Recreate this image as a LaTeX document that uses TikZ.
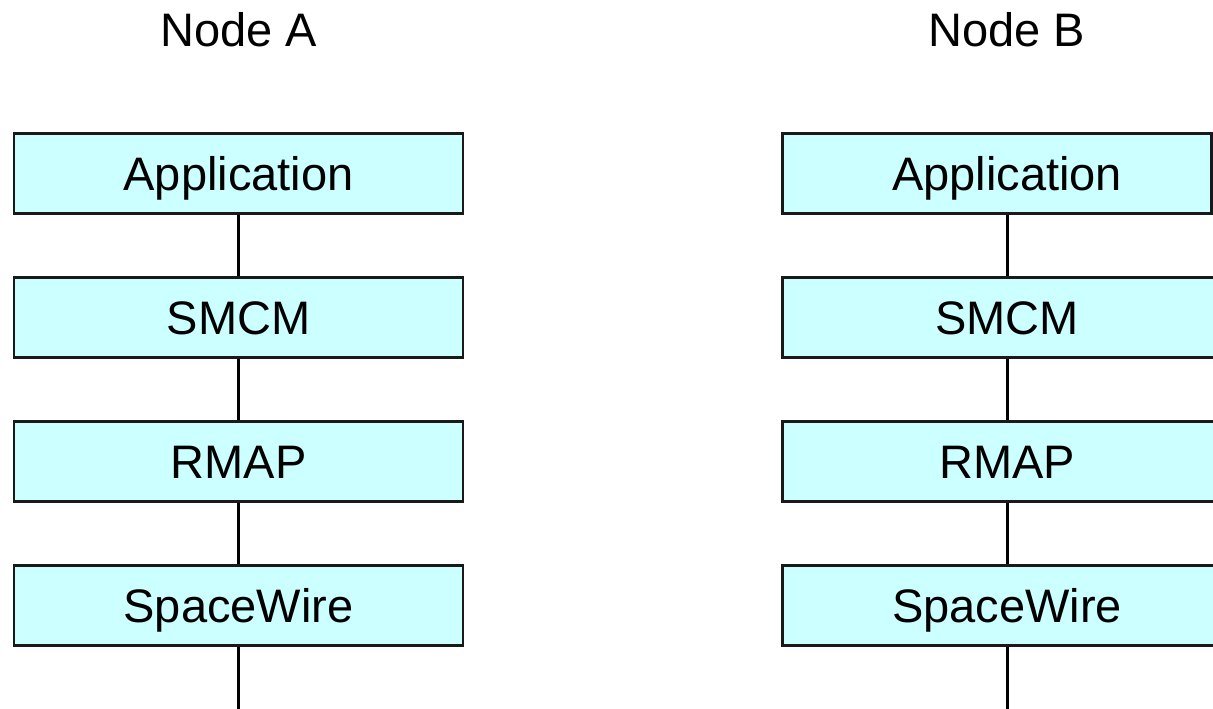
\documentclass[tikz,border=0pt]{standalone}
\usepackage{fontspec}
\setmainfont{Liberation Sans}
\begin{document}
\begin{tikzpicture}[x=1pt,y=-1pt,
  layer/.style={draw=black!90, line width=2.5pt, fill={rgb,255:red,204;green,255;blue,255},
    minimum width=449pt, minimum height=80pt, inner sep=0pt,
    text height=34pt, text depth=0pt, font=\fontsize{47}{50}\selectfont},
  title/.style={anchor=base, font=\fontsize{47}{50}\selectfont},
  conn/.style={draw=black, line width=3pt}]
\useasboundingbox (0,0) rectangle (1213,709);
\clip (0,0) rectangle (1213,709);

% Node A protocol stack
\node[title] (ta) at (238.5,47) {Node A};
\node[layer] (a1) at (238.5,173.5) {Application};
\node[layer] (a2) at (238.5,317.5) {SMCM};
\node[layer] (a3) at (238.5,461.5) {RMAP};
\node[layer] (a4) at (238.5,605.5) {SpaceWire};
\coordinate (aend) at (238.5,709);

% Node B protocol stack
\node[title] (tb) at (1007,47) {Node B};
\node[layer] (b1) at (1007,173.5) {Application};
\node[layer] (b2) at (1007,317.5) {SMCM};
\node[layer] (b3) at (1007,461.5) {RMAP};
\node[layer] (b4) at (1007,605.5) {SpaceWire};
\coordinate (bend) at (1007,709);

% links between layers
\draw[conn] (a1.south) -- (a2.north);
\draw[conn] (a2.south) -- (a3.north);
\draw[conn] (a3.south) -- (a4.north);
\draw[conn] (a4.south) -- (aend);
\draw[conn] (b1.south) -- (b2.north);
\draw[conn] (b2.south) -- (b3.north);
\draw[conn] (b3.south) -- (b4.north);
\draw[conn] (b4.south) -- (bend);

% right edge of the top layer of node B
\draw[draw=black!90, line width=2.5pt] (1211.5,134) -- (1211.5,213);
\end{tikzpicture}
\end{document}
